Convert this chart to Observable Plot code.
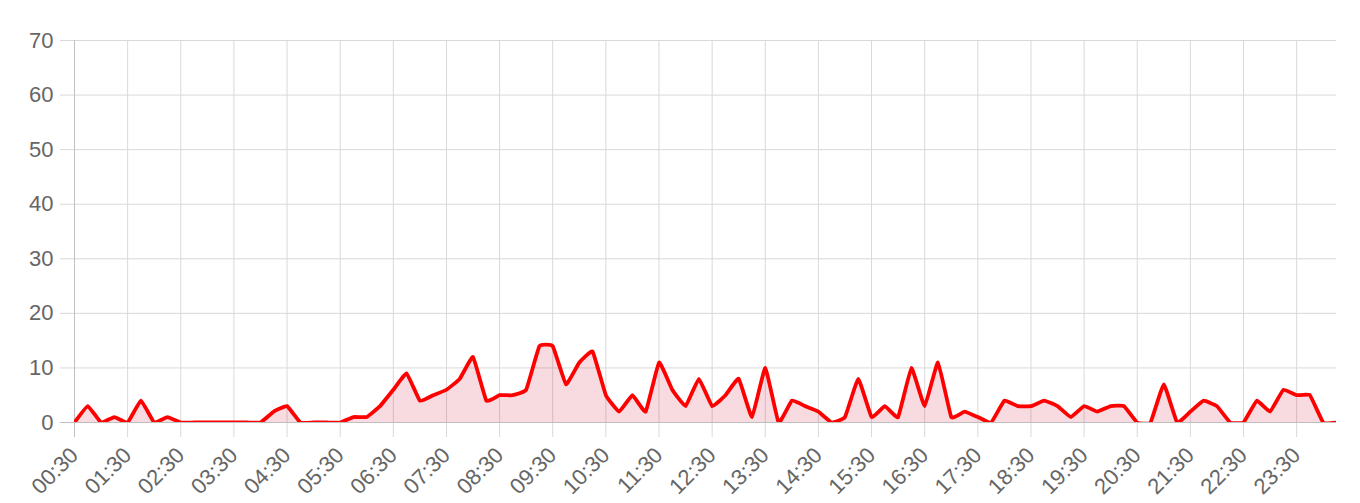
<!DOCTYPE html>
<html>
<head>
<meta charset="utf-8">
<script src="https://cdn.jsdelivr.net/npm/d3@7"></script>
<script src="https://cdn.jsdelivr.net/npm/@observablehq/plot@0.6"></script>
<style>
  html, body { margin: 0; padding: 0; background: #fff; }
</style>
</head>
<body>
<div id="chart"></div>
<script>
const labels = ("00:30 00:45 01:00 01:15 01:30 01:45 02:00 02:15 02:30 02:45 03:00 03:15 " +
  "03:30 03:45 04:00 04:15 04:30 04:45 05:00 05:15 05:30 05:45 06:00 06:15 " +
  "06:30 06:45 07:00 07:15 07:30 07:45 08:00 08:15 08:30 08:45 09:00 09:15 " +
  "09:30 09:45 10:00 10:15 10:30 10:45 11:00 11:15 11:30 11:45 12:00 12:15 " +
  "12:30 12:45 13:00 13:15 13:30 13:45 14:00 14:15 14:30 14:45 15:00 15:15 " +
  "15:30 15:45 16:00 16:15 16:30 16:45 17:00 17:15 17:30 17:45 18:00 18:15 " +
  "18:30 18:45 19:00 19:15 19:30 19:45 20:00 20:15 20:30 20:45 21:00 21:15 " +
  "21:30 21:45 22:00 22:15 22:30 22:45 23:00 23:15 23:30 23:45 00:00 00:15").split(" ");

const values = [
  0, 3, 0, 1, 0, 4, 0, 1, 0, 0,
  0, 0, 0, 0, 0, 2, 3, 0, 0, 0,
  0, 1, 1, 3, 6, 9, 4, 5, 6, 8,
  12, 4, 5, 5, 6, 14, 14, 7, 11, 13,
  5, 2, 5, 2, 11, 6, 3, 8, 3, 5,
  8, 1, 10, 0, 4, 3, 2, 0, 1, 8,
  1, 3, 1, 10, 3, 11, 1, 2, 1, 0,
  4, 3, 3, 4, 3, 1, 3, 2, 3, 3,
  0, 0, 7, 0, 2, 4, 3, 0, 0, 4,
  2, 6, 5, 5, 0, 0
];

const xTicks = ["00:30", "01:30", "02:30", "03:30", "04:30", "05:30", "06:30", "07:30",
  "08:30", "09:30", "10:30", "11:30", "12:30", "13:30", "14:30", "15:30",
  "16:30", "17:30", "18:30", "19:30", "20:30", "21:30", "22:30", "23:30"];
const yTicks = [0, 10, 20, 30, 40, 50, 60, 70];

const data = labels.map((t, i) => ({i, t, v: values[i]}));
const xTickIdx = xTicks.map(t => labels.indexOf(t));
const fmt = i => labels[i];

const gridColor = "#d9d9d9";
const zeroColor = "#bfbfbf";
const textColor = "#666";

const chart = Plot.plot({
  width: 1360,
  height: 503,
  marginLeft: 74,
  marginRight: 24,
  marginTop: 40,
  marginBottom: 81,
  style: {
    fontFamily: "'Liberation Sans', Arial, Helvetica, sans-serif",
    fontSize: "22px",
    background: "#fff",
    color: textColor
  },
  x: {type: "linear", domain: [0, labels.length - 1]},
  y: {domain: [0, 70]},
  marks: [
    Plot.gridY(yTicks.slice(1), {stroke: gridColor, strokeOpacity: 1}),
    Plot.gridX(xTickIdx.slice(1), {stroke: gridColor, strokeOpacity: 1}),
    Plot.axisY(yTicks.slice(1), {tickSize: 14, tickPadding: 7, stroke: gridColor, strokeOpacity: 1, fill: textColor, label: null}),
    Plot.axisY([0], {tickSize: 14, tickPadding: 7, stroke: zeroColor, strokeOpacity: 1, fill: textColor, label: null}),
    Plot.axisX(xTickIdx.slice(1), {tickSize: 15, tickPadding: 14, tickRotate: -45, tickFormat: fmt, stroke: gridColor, strokeOpacity: 1, fill: textColor, label: null}),
    Plot.axisX(xTickIdx.slice(0, 1), {tickSize: 15, tickPadding: 14, tickRotate: -45, tickFormat: fmt, stroke: zeroColor, strokeOpacity: 1, fill: textColor, label: null}),
    Plot.ruleX(xTickIdx.slice(0, 1), {stroke: zeroColor}),
    Plot.areaY(data, {x: "i", y: "v", fill: "#c8102e", fillOpacity: 0.15, curve: "cardinal", tension: 0.7, clip: true}),
    Plot.ruleY([0], {stroke: zeroColor}),
    Plot.lineY(data, {x: "i", y: "v", stroke: "#ff0000", strokeWidth: 3.8, strokeLinejoin: "round", curve: "cardinal", tension: 0.7, clip: true})
  ]
});

document.getElementById("chart").appendChild(chart);
</script>
</body>
</html>
